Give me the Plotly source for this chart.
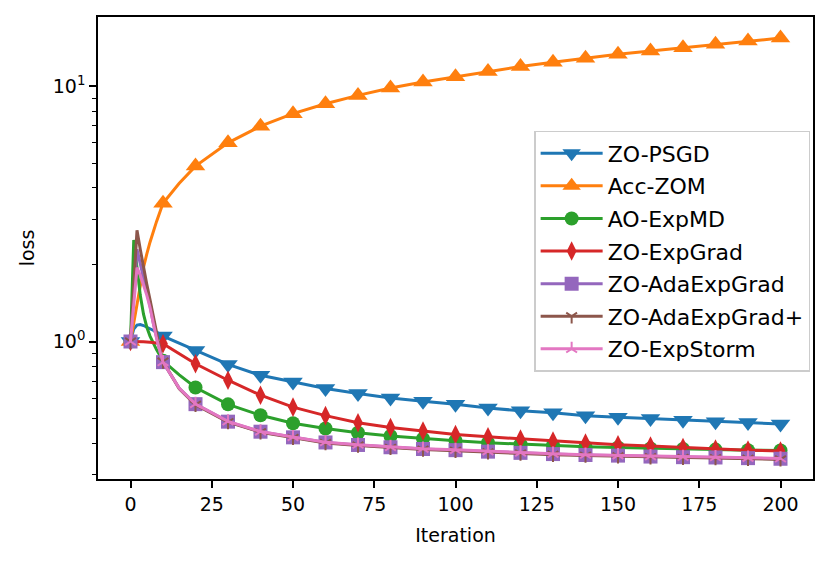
import plotly.graph_objects as go

# ---------------- data ----------------
iters_psgd = [0, 1, 2, 3, 4, 6, 8, 10, 20, 30, 40, 50, 60, 70, 80, 90, 100, 110, 120, 130, 140, 150, 160, 170, 180, 190, 200]
loss_psgd = [1.0, 1.12, 1.16, 1.165, 1.155, 1.125, 1.09, 1.05, 0.922, 0.813, 0.737, 0.694, 0.654, 0.625, 0.601, 0.583,
             0.568, 0.549, 0.535, 0.526, 0.512, 0.505, 0.499, 0.491, 0.485, 0.481, 0.475]

iters_acc = [0, 1, 2, 3, 4, 5, 6, 8, 10, 15, 20, 30, 40, 50, 60, 70, 80, 90, 100, 110, 120, 130, 140, 150, 160, 170, 180, 190, 200]
loss_acc = [1.0, 1.18, 1.42, 1.68, 1.95, 2.2, 2.45, 2.95, 3.48, 4.17, 4.87, 6.01, 6.98, 7.82, 8.55, 9.22, 9.85, 10.4,
            10.9, 11.43, 11.96, 12.44, 12.9, 13.36, 13.77, 14.18, 14.62, 15.06, 15.47]

iters_md = [0, 1, 2, 3, 4, 5, 6, 8, 10, 15, 20, 30, 40, 50, 60, 70, 80, 90, 100, 110, 120, 130, 140, 150, 160, 170, 180, 190, 200]
loss_md = [1.0, 2.5, 1.95, 1.52, 1.28, 1.14, 1.05, 0.93, 0.84, 0.74, 0.66, 0.567, 0.514, 0.478, 0.456, 0.439, 0.426,
           0.416, 0.408, 0.401, 0.396, 0.391, 0.387, 0.384, 0.381, 0.379, 0.377, 0.375, 0.374]

iters_eg = [0, 2, 4, 6, 8, 10, 20, 30, 40, 50, 60, 70, 80, 90, 100, 110, 120, 130, 140, 150, 160, 170, 180, 190, 200]
loss_eg = [1.0, 1.0, 0.998, 0.993, 0.987, 0.98, 0.818, 0.705, 0.616, 0.553, 0.512, 0.48, 0.46, 0.446, 0.432, 0.423,
           0.415, 0.407, 0.4, 0.394, 0.389, 0.384, 0.379, 0.375, 0.372]

iters_ada = [0, 1, 2, 3, 4, 5, 6, 7, 8, 9, 10, 15, 20, 30, 40, 50, 60, 70, 80, 90, 100, 110, 120, 130, 140, 150, 160, 170, 180, 190, 200]
loss_ada = [1.0, 1.5, 2.3, 2.02, 1.78, 1.57, 1.38, 1.18, 1.03, 0.92, 0.83, 0.655, 0.568, 0.485, 0.443, 0.421, 0.402,
            0.393, 0.385, 0.379, 0.375, 0.37, 0.366, 0.362, 0.359, 0.357, 0.354, 0.352, 0.351, 0.349, 0.347]

iters_adap = [0, 1, 2, 3, 4, 5, 6, 7, 8, 9, 10, 15, 20, 30, 40, 50, 60, 70, 80, 90, 100, 110, 120, 130, 140, 150, 160, 170, 180, 190, 200]
loss_adap = [1.0, 1.65, 2.73, 2.3, 1.95, 1.68, 1.46, 1.25, 1.08, 0.94, 0.835, 0.652, 0.565, 0.483, 0.441, 0.419, 0.4,
             0.391, 0.383, 0.377, 0.373, 0.368, 0.364, 0.36, 0.357, 0.355, 0.352, 0.35, 0.349, 0.347, 0.345]

iters_storm = [0, 1, 2, 3, 4, 5, 6, 7, 8, 9, 10, 15, 20, 30, 40, 50, 60, 70, 80, 90, 100, 110, 120, 130, 140, 150, 160, 170, 180, 190, 200]
loss_storm = [1.0, 1.4, 1.95, 1.82, 1.67, 1.52, 1.36, 1.17, 1.03, 0.92, 0.83, 0.656, 0.569, 0.486, 0.444, 0.422, 0.403,
              0.394, 0.386, 0.38, 0.376, 0.371, 0.367, 0.363, 0.36, 0.358, 0.355, 0.353, 0.352, 0.35, 0.348]

names = ["ZO-PSGD", "Acc-ZOM", "AO-ExpMD", "ZO-ExpGrad", "ZO-AdaExpGrad", "ZO-AdaExpGrad+", "ZO-ExpStorm"]
xs_all = [iters_psgd, iters_acc, iters_md, iters_eg, iters_ada, iters_adap, iters_storm]
ys_all = [loss_psgd, loss_acc, loss_md, loss_eg, loss_ada, loss_adap, loss_storm]

x_ticks = [0, 25, 50, 75, 100, 125, 150, 175, 200]
y_ticks = [1, 10]
y_ticktext = ["10<sup>0</sup>", "10<sup>1</sup>"]
y_minor = [0.3, 0.4, 0.5, 0.6, 0.7, 0.8, 0.9, 2, 3, 4, 5, 6, 7, 8, 9]

# ---------------- styles ----------------
colors = ["#1f77b4", "#ff7f0e", "#2ca02c", "#d62728", "#9467bd", "#8c564b", "#e377c2"]
symbols = ["triangle-down", "triangle-up", "circle", "diamond-tall", "square", "y-down", "y-up"]
sizes = [17, 17, 14, 14, 14, 9, 9]
MARK_EVERY = 10
FONT = "DejaVu Sans"

fig = go.Figure()
for i, name in enumerate(names):
    c = colors[i]
    xs, ys = xs_all[i], ys_all[i]
    is_line_sym = symbols[i].startswith("y-")
    mk = dict(symbol=symbols[i], size=sizes[i], color=c,
              line=dict(color=c, width=2 if is_line_sym else 0))
    fig.add_trace(go.Scatter(x=xs, y=ys, mode="lines", line=dict(color=c, width=3),
                             showlegend=False, legendgroup=name, hoverinfo="skip"))
    mx = [x for x in xs if x % MARK_EVERY == 0]
    my = [y for x, y in zip(xs, ys) if x % MARK_EVERY == 0]
    fig.add_trace(go.Scatter(x=mx, y=my, mode="markers", marker=mk,
                             showlegend=False, legendgroup=name))
    fig.add_trace(go.Scatter(x=[None], y=[None], mode="lines+markers", name=name,
                             line=dict(color=c, width=3), marker=mk, legendgroup=name))

axis_common = dict(showline=True, linecolor="black", linewidth=1.5, mirror=True,
                   ticks="outside", ticklen=7, tickwidth=1.5, tickcolor="black",
                   showgrid=False, zeroline=False,
                   tickfont=dict(family=FONT, size=19, color="black"))

# the page body adds an 8px offset; the figure is sized/margined to compensate
fig.update_layout(
    width=820, height=551,
    margin=dict(l=89.5, r=15, t=7, b=80),
    paper_bgcolor="white", plot_bgcolor="white",
    font=dict(family=FONT, size=19, color="black"),
    xaxis=dict(range=[-10, 210], tickvals=x_ticks,
               title=dict(text="Iteration", font=dict(family=FONT, size=19), standoff=15),
               **axis_common),
    yaxis=dict(type="log", range=[-0.539, 1.272], tickvals=y_ticks, ticktext=y_ticktext,
               title=dict(text="loss", font=dict(family=FONT, size=19), standoff=13),
               minor=dict(tickvals=y_minor, ticks="outside", ticklen=4, tickwidth=1.2, tickcolor="black"),
               **axis_common),
    legend=dict(x=0.996, y=0.4925, xanchor="right", yanchor="middle",
                bgcolor="rgba(255,255,255,0.8)", bordercolor="#cccccc", borderwidth=1.5,
                font=dict(family=FONT, size=22, color="black"),
                itemwidth=62,
                traceorder="grouped", tracegroupgap=1),
)

fig.write_html("out.html")
